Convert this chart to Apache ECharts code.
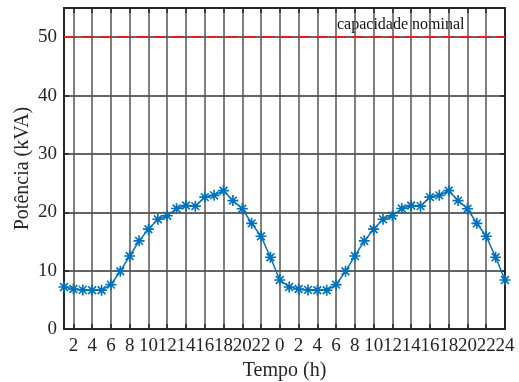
<!DOCTYPE html>
<html>
<head>
<meta charset="utf-8">
<script src="https://cdn.jsdelivr.net/npm/echarts@6/dist/echarts.min.js"></script>
<style>html,body{margin:0;padding:0;background:#fff}#c{width:519px;height:382px}</style>
</head>
<body>
<div id="c"></div>
<script>
var hours = [1,2,3,4,5,6,7,8,9,10,11,12,13,14,15,16,17,18,19,20,21,22,23,24,
             25,26,27,28,29,30,31,32,33,34,35,36,37,38,39,40,41,42,43,44,45,46,47,48];
var power = [7.2, 6.85, 6.7, 6.65, 6.65, 7.6, 9.9, 12.5, 15.1, 17.1, 18.8, 19.4,
             20.65, 21.15, 21.05, 22.6, 22.9, 23.7, 22.0, 20.6, 18.1, 15.9, 12.3, 8.4,
             7.2, 6.85, 6.7, 6.65, 6.65, 7.6, 9.9, 12.5, 15.1, 17.1, 18.8, 19.4,
             20.65, 21.15, 21.05, 22.6, 22.9, 23.7, 22.0, 20.6, 18.1, 15.9, 12.3, 8.4];
var xTickLabels = ['2','4','6','8','10','12','14','16','18','20','22','0',
                   '2','4','6','8','10','12','14','16','18','20','22','24'];
var nominalCapacity = 50;
var nominalLabel = 'capacidade nominal';
var yTicks = [0, 10, 20, 30, 40, 50];

var serif = '"Liberation Serif", "DejaVu Serif", serif';
var asterisk = 'path://M0 8.5L20 8.5L20 11.5L0 11.5Z M8.5 0L11.5 0L11.5 20L8.5 20Z ' +
  'M4.0 1.9L18.1 16.0L16.0 18.1L1.9 4.0Z M16.0 1.9L18.1 4.0L4.0 18.1L1.9 16.0Z';
var axisColor = '#262626';
function isTick(i){ return i % 2 === 1; }
function labelFmt(v, i){ return isTick(i) ? xTickLabels[(i-1)/2] : ''; }
function labelStyle(rem){
  return {interval: function(i){return i % 4 === rem;}, margin: 8, fontFamily: serif, fontSize: 19,
          color: '#262626', showMaxLabel: true, showMinLabel: true, hideOverlap: false, formatter: labelFmt};
}

var chart = echarts.init(document.getElementById('c'), null, {renderer:'canvas'});
chart.setOption({
  animation: false,
  grid: {left: 64, right: 14, top: 8, bottom: 53, containLabel: false, outerBoundsMode: 'none'},
  xAxis: [{
    type: 'category', data: hours, boundaryGap: false,
    name: 'Tempo (h)', nameLocation: 'middle', nameGap: 32, nameMoveOverlap: false,
    nameTextStyle: {fontFamily: serif, fontSize: 20, color: '#262626'},
    axisLine: {show: true, onZero: false, lineStyle: {color: axisColor, width: 2}},
    axisTick: {show: true, inside: true, length: 5, interval: function(i){return isTick(i);}, lineStyle: {color: axisColor, width: 1.5}},
    axisLabel: labelStyle(1),
    splitLine: {show: true, interval: function(i){return isTick(i);}, lineStyle: {color: '#555', width: 1.5}}
  }, {
    type: 'category', data: hours, boundaryGap: false, position: 'top',
    axisLine: {show: true, onZero: false, lineStyle: {color: axisColor, width: 2}},
    axisTick: {show: true, inside: true, length: 5, interval: function(i){return isTick(i);}, lineStyle: {color: axisColor, width: 1.5}},
    axisLabel: {show: false}, splitLine: {show: false}
  }, {
    type: 'category', data: hours, boundaryGap: false, position: 'bottom', offset: 0,
    axisLine: {show: false, onZero: false}, axisTick: {show: false},
    axisLabel: labelStyle(3), splitLine: {show: false}
  }],
  yAxis: [{
    type: 'value', min: 0, max: 55, interval: 10,
    name: 'Potência (kVA)', nameLocation: 'middle', nameGap: 31, nameMoveOverlap: false,
    nameTextStyle: {fontFamily: serif, fontSize: 20, color: '#262626'},
    axisLine: {show: true, lineStyle: {color: axisColor, width: 2}},
    axisTick: {show: true, inside: true, length: 5, lineStyle: {color: axisColor, width: 1.5}},
    axisLabel: {margin: 7, fontFamily: serif, fontSize: 19, color: '#262626',
      formatter: function(v){ return yTicks.indexOf(v) >= 0 ? String(v) : ''; }},
    splitLine: {show: true, lineStyle: {color: '#333', width: 1.5}}
  }, {
    type: 'value', min: 0, max: 55, interval: 10, position: 'right',
    axisLine: {show: true, lineStyle: {color: axisColor, width: 2}},
    axisTick: {show: true, inside: true, length: 5, lineStyle: {color: axisColor, width: 1.5}},
    axisLabel: {show: false}, splitLine: {show: false}
  }],
  series: [{
    type: 'line', data: power, xAxisIndex: 0, yAxisIndex: 0,
    symbol: asterisk, symbolSize: 11, showAllSymbol: true,
    lineStyle: {color: '#0072BD', width: 1.5},
    itemStyle: {color: '#0072BD'},
    markLine: {
      silent: true, symbol: 'none', animation: false,
      lineStyle: {color: '#e02020', type: [12, 6], width: 2},
      label: {show: false},
      data: [{yAxis: nominalCapacity}]
    }
  }],
  graphic: [{
    type: 'text', left: 337, top: 17,
    style: {text: nominalLabel, font: '16px ' + serif, fill: '#111'}
  }]
});
</script>
</body>
</html>
